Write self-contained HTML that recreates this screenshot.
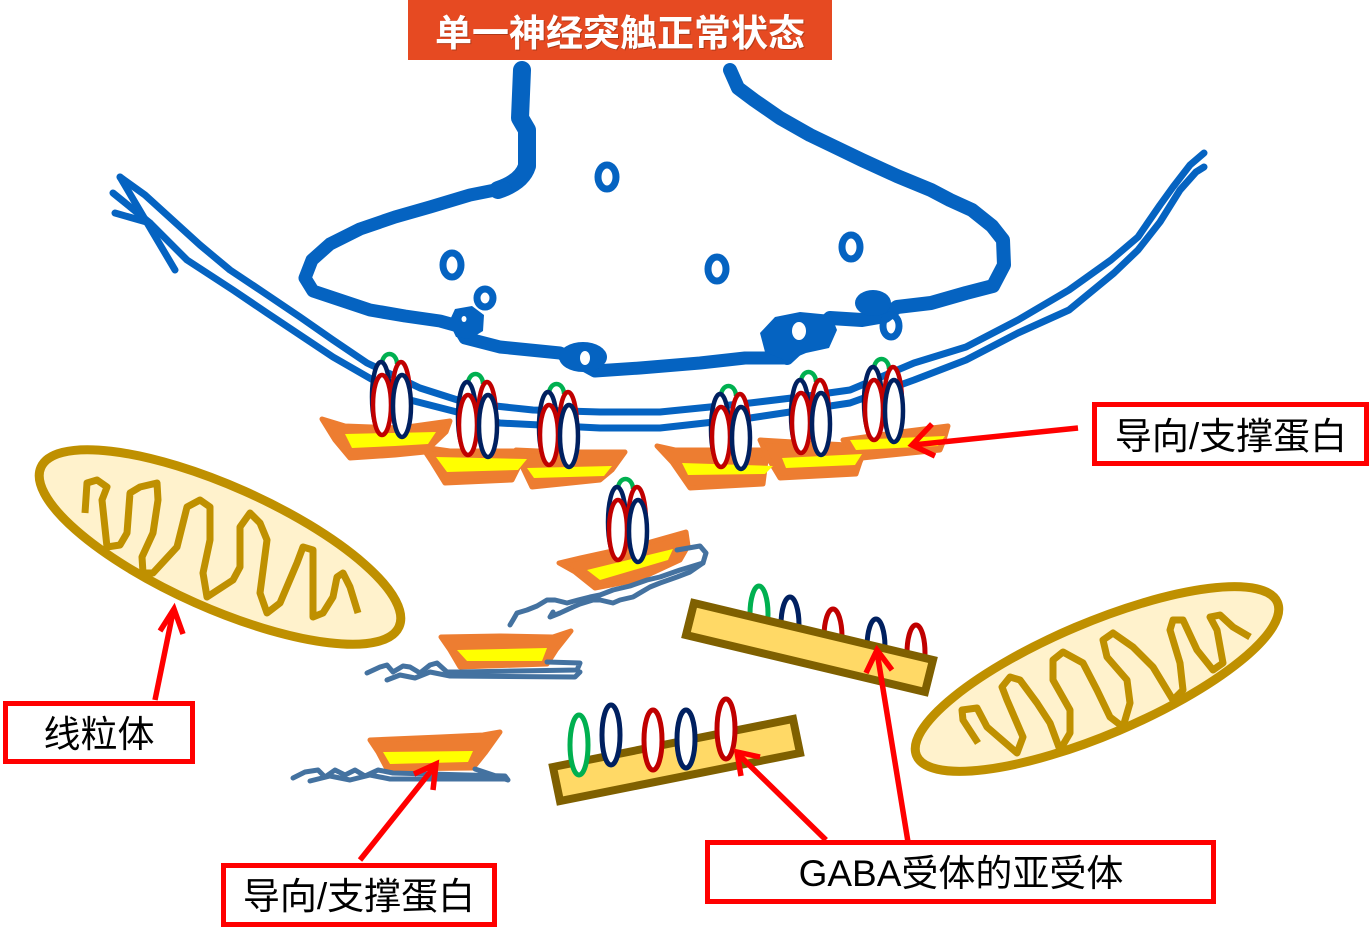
<!DOCTYPE html>
<html>
<head>
<meta charset="utf-8">
<style>
html,body{margin:0;padding:0;background:#fff;}
svg{display:block;}
text{font-family:"Liberation Sans","Noto Sans CJK SC",sans-serif;}
</style>
</head>
<body>
<svg width="1371" height="929" viewBox="0 0 1371 929" xmlns="http://www.w3.org/2000/svg">
<defs>
<g id="cl" stroke-width="4.5">
  <path d="M-9,4 A7.5,10 0 0 1 6,4" stroke="#00B050" fill="none"/>
  <ellipse cx="-10" cy="37" rx="9" ry="35" stroke="#002060" fill="#fff"/>
  <ellipse cx="10" cy="38" rx="9" ry="36" stroke="#C00000" fill="#fff"/>
  <ellipse cx="-9" cy="45" rx="9" ry="30" stroke="#C00000" fill="#fff"/>
  <ellipse cx="11" cy="46" rx="9" ry="31" stroke="#002060" fill="#fff"/>
</g>
</defs>

<!-- Title -->
<rect x="408" y="0" width="424" height="60" fill="#E64A22"/>
<text x="621" y="47" text-anchor="middle" font-size="37" font-weight="bold" fill="#7a2a10" opacity="0.5">单一神经突触正常状态</text>
<text x="620" y="46" text-anchor="middle" font-size="37" font-weight="bold" fill="#ffffff">单一神经突触正常状态</text>

<!-- Postsynaptic membrane (double line) -->
<g fill="none" stroke="#0563C1" stroke-width="7" stroke-linejoin="round" stroke-linecap="round">
  <polyline points="120,177 145,195 167,215 200,245 230,270 260,290 300,317 333,340 367,363 420,388 467,403 533,410 600,412 660,412 750,403 800,397 850,390 914,363 966,347 1018,320 1069,290 1111,260 1138,237 1160,205 1173,187 1190,165 1204,153"/>
  <polyline points="113,193 150,223 187,260 233,290 267,313 333,357 373,380 410,400 500,423 600,428 660,428 750,418 850,403 914,380 966,360 1018,333 1069,310 1114,273 1138,250 1160,222 1180,190 1196,172 1204,167"/>
  <line x1="120" y1="177" x2="175" y2="270"/>
  <line x1="115" y1="213" x2="150" y2="223"/>
</g>

<!-- Presynaptic terminal -->
<g fill="none" stroke="#0563C1" stroke-linejoin="round" stroke-linecap="round">
  <path d="M522,70 L520,118 L527,130 L527,166 Q522,182 498,190" stroke-width="18"/>
  <path d="M505,188 L470,195 L430,207 L395,217 L360,229 L330,244 L312,260 L305,278 L313,291 L340,300 L370,310 L405,316 L440,321 L458,326 L465,338 L500,347 L530,350 L560,353 L575,360 L595,371 L640,368 L700,363 L745,358 L787,358" stroke-width="13"/>
  <path d="M787,358 L830,318 L862,320 L885,316 L897,307 L931,303 L966,293 L993,286 L1004,265 L1003,240 L992,226 L972,210 L950,200 L931,190 L897,176 L862,160 L835,147 L810,135 L780,118 L754,100 L738,88 L730,70" stroke-width="14"/>
</g>
<g fill="#0563C1">
  <polygon points="449,322 455,309 472,306 484,315 483,331 470,339 456,337"/>
  <ellipse cx="583" cy="357" rx="24" ry="15"/>
  <polygon points="760,333 775,317 800,312 831,315 837,330 829,348 806,353 787,361 765,352"/>
  <ellipse cx="873" cy="303" rx="18" ry="13"/>
</g>
<g fill="#fff">
  <ellipse cx="464" cy="319" rx="2.5" ry="3"/>
  <ellipse cx="585" cy="358" rx="5" ry="7"/>
  <ellipse cx="799" cy="331" rx="7" ry="9"/>
</g>
<g fill="none" stroke="#0563C1" stroke-width="7">
  <ellipse cx="452" cy="265" rx="9" ry="12"/>
  <ellipse cx="485" cy="298" rx="8" ry="9"/>
  <ellipse cx="607" cy="177" rx="9" ry="12"/>
  <ellipse cx="717" cy="269" rx="9" ry="12"/>
  <ellipse cx="851" cy="247" rx="9" ry="12"/>
  <ellipse cx="891" cy="326" rx="8" ry="11"/>
</g>

<!-- Boats -->
<g stroke="#ED7D31" stroke-width="5" stroke-linejoin="round" fill="#ED7D31">
  <path d="M322,419 L345,426 L400,428 L450,421 L446,432 L425,452 L395,455 L350,458 L335,440 Z"/>
  <path d="M422,447 L450,451 L528,451 L520,464 L512,480 L445,483 L432,462 Z"/>
  <path d="M516,450 L560,452 L625,452 L612,470 L600,480 L532,487 L522,466 Z"/>
  <path d="M657,446 L675,450 L760,450 L766,460 L763,484 L690,488 L672,462 Z"/>
  <path d="M760,440 L810,443 L867,446 L860,462 L856,474 L780,478 L768,458 Z"/>
  <path d="M843,440 L900,432 L948,426 L944,440 L940,450 L862,458 L850,448 Z"/>
  <path d="M559,563 L580,558 L640,545 L686,532 L688,546 L680,560 L637,580 L595,588 L575,572 Z"/>
  <path d="M441,637 L500,636 L553,637 L571,631 L556,650 L547,664 L460,667 L450,650 Z"/>
  <path d="M370,740 L440,737 L483,735 L500,732 L485,753 L473,768 L387,769 L378,752 Z"/>
</g>
<g fill="#FFFF00">
  <path d="M345,434 L436,432 L428,444 L395,446 L352,448 Z"/>
  <path d="M436,457 L527,459 L518,470 L447,472 Z"/>
  <path d="M527,468 L612,466 L604,476 L534,478 Z"/>
  <path d="M682,463 L773,466 L765,474 L688,475 Z"/>
  <path d="M782,458 L862,454 L855,465 L786,468 Z"/>
  <path d="M850,440 L945,436 L938,446 L856,450 Z"/>
  <path d="M587,570 L673,549 L668,560 L600,580 Z"/>
  <path d="M457,650 L547,648 L542,661 L467,661 Z"/>
  <path d="M383,752 L473,751 L468,762 L390,764 Z"/>
</g>

<!-- Blue strands -->
<g fill="none" stroke="#4472A0" stroke-width="5" stroke-linejoin="round" stroke-linecap="round">
  <polyline points="677,550 700,546 706,553 703,563 690,567 680,570 660,577 647,580 630,586 613,590 600,595 590,597 578,600 567,603 555,600 547,600 537,606 527,610 517,613 513,620 510,625"/>
  <polyline points="703,563 690,572 677,577 660,583 650,587 633,597 620,600 613,603 600,600 593,600 580,604 573,607 560,613 550,617 553,612"/>
  <polyline points="367,673 380,667 387,665 393,672 403,666 410,667 420,673 430,665 437,663 447,672 460,672 577,670 580,663 547,662"/>
  <polyline points="387,680 400,675 415,678 430,672 450,676 575,677 580,672"/>
  <polyline points="293,778 305,772 318,770 325,777 335,770 345,775 355,770 365,776 378,770 393,773 505,776 508,780 475,769"/>
  <polyline points="310,781 330,776 350,780 370,775 390,779 505,779"/>
</g>

<!-- Receptor clusters -->
<use href="#cl" transform="translate(391,360)"/>
<use href="#cl" transform="translate(477,380)"/>
<use href="#cl" transform="translate(558,390)"/>
<use href="#cl" transform="translate(730,392)"/>
<use href="#cl" transform="translate(810,378)"/>
<use href="#cl" transform="translate(883,365)"/>
<use href="#cl" transform="translate(627,485)"/>

<!-- Upper bar -->
<g fill="#fff" stroke-width="5">
  <ellipse cx="759" cy="614" rx="9" ry="28" stroke="#00B050"/>
  <ellipse cx="790" cy="625" rx="9" ry="28" stroke="#002060"/>
  <ellipse cx="833" cy="637" rx="9" ry="28" stroke="#C00000"/>
  <ellipse cx="876" cy="647" rx="9" ry="28" stroke="#002060"/>
  <ellipse cx="916" cy="653" rx="9" ry="28" stroke="#C00000"/>
</g>
<polygon points="694,603 933,660 925,692 686,635" fill="#FFD966" stroke="#7F6000" stroke-width="8"/>

<!-- Lower bar -->
<polygon points="553,767 793,719 800,753 560,801" fill="#FFD966" stroke="#7F6000" stroke-width="8"/>
<g fill="#fff" stroke-width="5">
  <ellipse cx="579" cy="745" rx="9" ry="30" stroke="#00B050"/>
  <ellipse cx="611" cy="735" rx="9" ry="30" stroke="#002060"/>
  <ellipse cx="653" cy="740" rx="9" ry="30" stroke="#C00000"/>
  <ellipse cx="686" cy="739" rx="9" ry="29" stroke="#002060"/>
  <ellipse cx="726" cy="729" rx="9" ry="30" stroke="#C00000"/>
</g>

<!-- Mitochondria -->
<g transform="translate(220,547) rotate(24)">
  <ellipse cx="0" cy="0" rx="196" ry="61" fill="#FFF2CC" stroke="#BF9000" stroke-width="9"/>
</g>
<polyline fill="none" stroke="#BF9000" stroke-width="7" stroke-linejoin="round"
  points="85,513 87,483 97,480 107,487 102,500 107,547 120,545 127,533 130,493 140,487 157,483 158,500 153,533 142,557 143,573 153,573 177,547 187,507 200,500 210,507 210,540 203,573 207,597 233,580 240,567 240,527 250,513 260,523 267,540 260,593 267,613 280,603 297,563 303,547 313,550 313,580 313,617 323,613 333,597 337,577 343,573 350,587 358,613"/>

<g transform="translate(1097,679) rotate(-23)">
  <ellipse cx="0" cy="0" rx="196" ry="56" fill="#FFF2CC" stroke="#BF9000" stroke-width="9"/>
</g>
<polyline fill="none" stroke="#BF9000" stroke-width="7" stroke-linejoin="round"
  points="978,743 963,720 962,710 977,708 987,727 1017,753 1023,737 1007,700 1002,687 1010,677 1020,680 1037,703 1050,723 1060,750 1070,733 1070,710 1053,680 1053,660 1063,652 1083,663 1097,690 1110,717 1123,727 1130,703 1127,680 1107,657 1103,640 1113,633 1133,647 1153,667 1173,700 1183,690 1180,663 1170,630 1173,620 1183,620 1197,650 1213,670 1223,663 1217,630 1210,617 1220,615 1233,627 1250,637"/>

<!-- Red arrows -->
<g fill="none" stroke="#FF0000" stroke-width="5.5">
  <line x1="1078" y1="428" x2="913" y2="445"/>
  <polyline points="932,424 912,445 935,456"/>
  <line x1="908" y1="842" x2="877" y2="652"/>
  <polyline points="866,673 877,650 892,670"/>
  <line x1="826" y1="840" x2="738" y2="754"/>
  <polyline points="741,776 737,752 760,757"/>
  <line x1="360" y1="860" x2="435" y2="766"/>
  <polyline points="414,774 436,764 433,790"/>
  <line x1="155" y1="700" x2="173" y2="612"/>
  <polyline points="160,631 174,609 183,634"/>
</g>

<!-- Label boxes -->
<g fill="#fff" stroke="#FF0000" stroke-width="5">
  <rect x="5.5" y="703.5" width="187" height="58"/>
  <rect x="1094.5" y="404.5" width="272" height="59"/>
  <rect x="223.5" y="865.5" width="271" height="59"/>
  <rect x="707.5" y="842.5" width="506" height="59"/>
</g>
<g font-size="37" fill="#000" text-anchor="middle">
  <text x="99" y="747">线粒体</text>
  <text x="1231" y="449">导向/支撑蛋白</text>
  <text x="359" y="909">导向/支撑蛋白</text>
  <text x="961" y="886">GABA受体的亚受体</text>
</g>
</svg>
</body>
</html>
